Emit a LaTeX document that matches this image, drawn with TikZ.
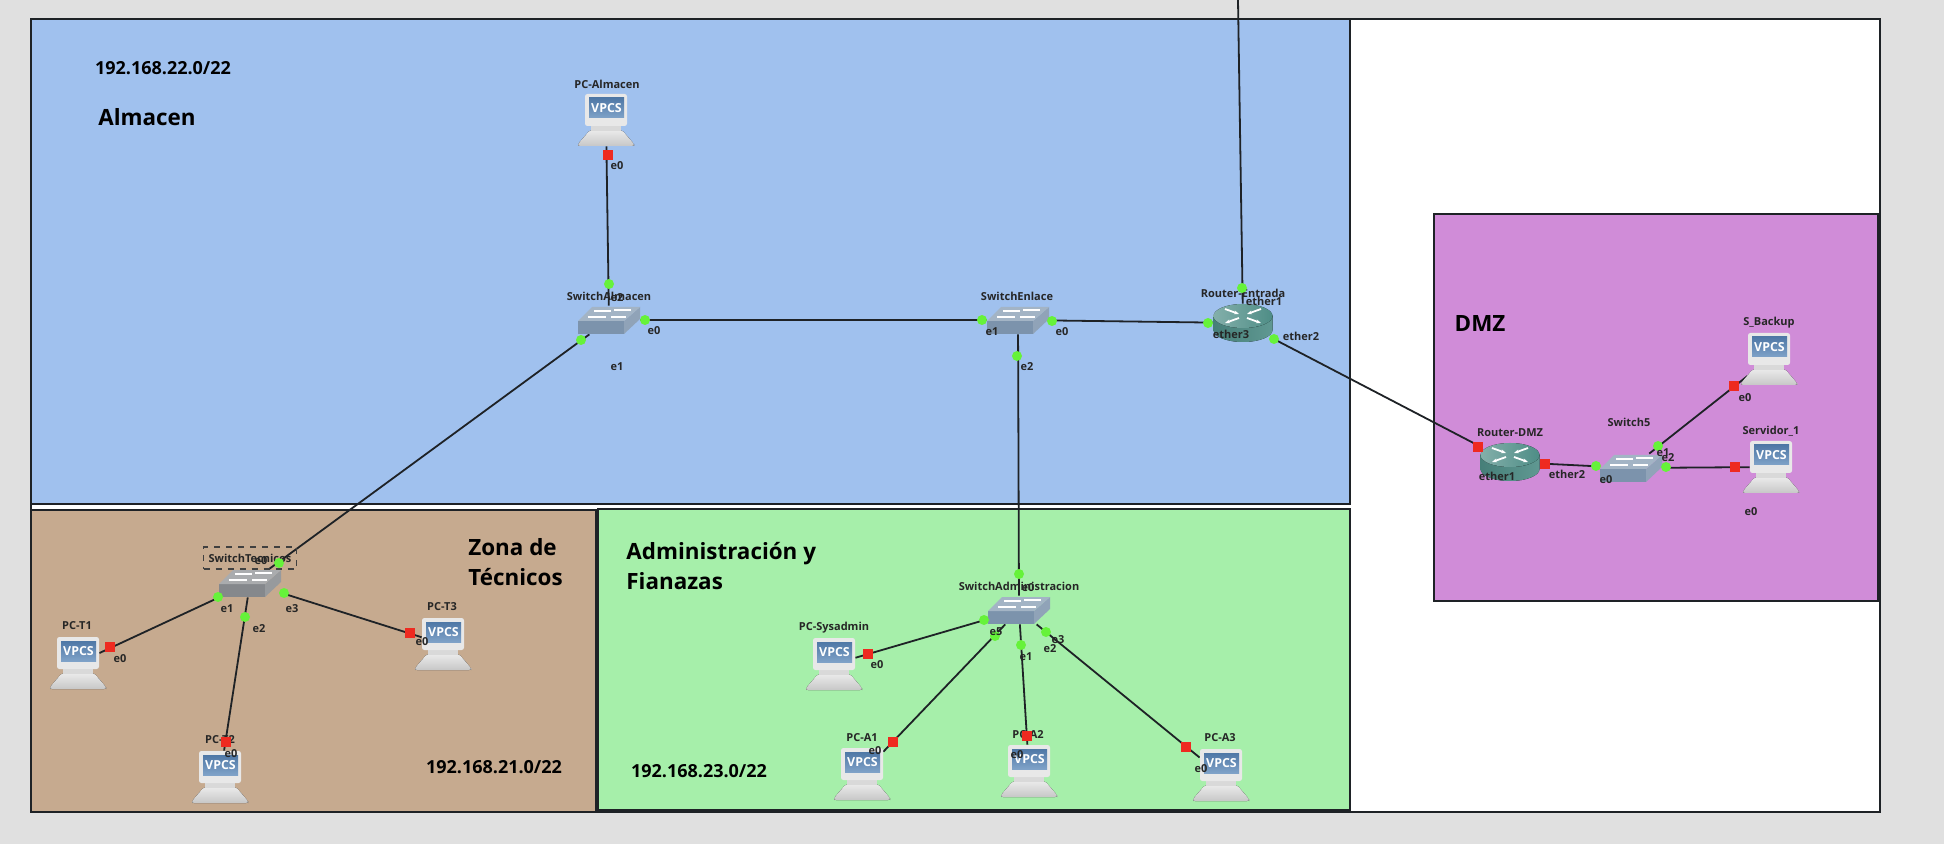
\documentclass[tikz,border=0pt]{standalone}
\usepackage{fontspec}
\setmainfont{Open Sans}
\usetikzlibrary{arrows.meta, positioning, calc}
\definecolor{bgGray}{HTML}{E0E0E0}
\definecolor{zoneBlue}{HTML}{A0C1EE}
\definecolor{zoneTan}{HTML}{C6AA8F}
\definecolor{zoneGreen}{HTML}{A6EFAA}
\definecolor{zonePurple}{HTML}{D08CD8}
\definecolor{lineDark}{HTML}{1E2226}
\definecolor{portGreen}{HTML}{66F23A}
\definecolor{portRed}{HTML}{EE2A20}
\definecolor{swBlue}{HTML}{7C93AC}
\definecolor{swGray}{HTML}{85888C}
\definecolor{routerTeal}{HTML}{4E8D86}
\definecolor{screenDark}{HTML}{4F78A6}
\definecolor{screenLight}{HTML}{7FA2C8}
\tikzset{
  zone/.style={draw=lineDark, line width=1pt},
  link/.style={draw=lineDark, line width=0.9pt},
  pcBox/.style={rectangle, inner sep=0pt, minimum width=21pt, minimum height=26pt},
  swBox/.style={rectangle, inner sep=0pt, minimum width=31pt, minimum height=14pt},
  rtBox/.style={rectangle, inner sep=0pt, minimum width=29.5pt, minimum height=19pt},
  portG/.style={circle, fill=portGreen, inner sep=0pt, minimum size=5pt},
  portR/.style={rectangle, fill=portRed, inner sep=0pt, minimum size=4.6pt},
  lbl/.style={inner sep=0pt, text=black!85, font=\fontsize{5.5}{6.5}\selectfont\bfseries},
  selBox/.style={draw=black!75, dashed, line width=0.6pt, minimum width=46.5pt, minimum height=11pt},
  zoneTxt/.style={inner sep=0pt, align=left, font=\fontsize{11.2}{15}\selectfont\bfseries},
  ipTxt/.style={inner sep=0pt, font=\fontsize{9}{10}\selectfont\bfseries},
  vpcsTxt/.style={inner sep=0pt, text=white, font=\fontsize{6.2}{7}\selectfont\bfseries},
  pics/pcicon/.style={code={
    \fill[rounded corners=1pt, top color=black!8, bottom color=black!22]
      (-16,10) -- (16,10) -- (28,24) -- (28,26) -- (-28,26) -- (-28,24) -- cycle;
    \fill[black!15] (-15,4) rectangle (15,11);
    \fill[rounded corners=1.2pt, black!9] (-21,-26) rectangle (21,6);
    \fill[top color=screenDark, bottom color=screenLight] (-17,-22) rectangle (18,-2);
    \node[vpcsTxt] (-vpcs) at (0.5,-12) {VPCS};
  }},
  pics/swicon/.style={code={
    \fill[#1] (-31,1) -- (15,1) -- (15,14) -- (-31,14) -- cycle;
    \fill[#1!85!white] (15,1) -- (31,-13) -- (31,-1) -- (15,14) -- cycle;
    \fill[#1!70!white] (-31,1) -- (-17,-13) -- (31,-13) -- (15,1) -- cycle;
    \foreach \ax/\ay/\bx in {-21/-3/-3, -15/-9/2, 2/-3/17, 5/-10/22} {
      \draw[white, line width=0.8pt] (\ax,\ay) -- (\bx,\ay);
    }
  }},
  pics/rticon/.style={code={
    \fill[left color=routerTeal!90!black, right color=routerTeal!90!white]
      (-29.5,-7) -- (-29.5,7) arc[start angle=180, end angle=0, x radius=29.5, y radius=12]
      -- (29.5,-7) -- cycle;
    \fill[left color=routerTeal!70!white, right color=routerTeal]
      (0,-7) ellipse[x radius=29.5, y radius=12];
    \foreach \sx in {-1,1} {
      \draw[white, line width=0.9pt, -{Stealth[length=2.5pt]}] (\sx*18,-14) -- (\sx*4,-9);
      \draw[white, line width=0.9pt, {Stealth[length=2.5pt]}-] (\sx*18,0) -- (\sx*4,-5);
    }
  }},
}

\begin{document}
\begin{tikzpicture}[x=0.5pt, y=-0.5pt]
    \useasboundingbox (0,0) rectangle (1944,844);
    \fill[bgGray] (0,0) rectangle (1944,844);
    % zonas
    \draw[zone, fill=white] (31,19) rectangle (1880,812);
    \draw[zone, fill=zoneBlue] (31,19) rectangle (1350,504);
    \draw[zone, fill=zoneTan] (31,510) rectangle (596,812);
    \draw[zone, fill=zoneGreen] (598,509) rectangle (1350,810);
    \draw[zone, fill=zonePurple] (1434,214) rectangle (1878,601);
    % equipos
    \foreach \n/\x/\y in {pcAlmacen/606/120, pcT1/78/663, pcT2/220/777, pcT3/443/644,
        pcSysadmin/834/664, pcA1/862/774, pcA2/1029/771, pcA3/1221/775,
        sBackup/1769/359, servidor/1771/467} {
      \node[pcBox] (\n) at (\x,\y) {};
    }
    \foreach \n/\x/\y in {swAlmacen/609/320, swEnlace/1018/320, swTecnicos/250/583,
        swAdmin/1019/610, sw5/1631/468} {
      \node[swBox] (\n) at (\x,\y) {};
    }
    \node[rtBox] (rtEntrada) at (1243,323) {};
    \node[rtBox] (rtDMZ) at (1510,462) {};
    \coordinate (wan) at (1238,0);
    % enlaces
    \draw[link] (wan) -- (rtEntrada);
    \draw[link] (rtEntrada) -- (rtDMZ);
    \draw[link] (rtEntrada) -- (swEnlace);
    \draw[link] (swEnlace) -- (swAlmacen);
    \draw[link] (swEnlace) -- (swAdmin);
    \draw[link] (swAlmacen) -- (pcAlmacen);
    \draw[link] (swAlmacen) -- (swTecnicos);
    \draw[link] (rtDMZ) -- (sw5);
    \foreach \a/\b in {swTecnicos/pcT1, swTecnicos/pcT2, swTecnicos/pcT3,
        swAdmin/pcSysadmin, swAdmin/pcA1, swAdmin/pcA2, swAdmin/pcA3,
        sw5/sBackup, sw5/servidor} {
      \draw[link] (\a) -- (\b);
    }
    % iconos
    \foreach \n in {pcAlmacen, pcT1, pcT2, pcT3, pcSysadmin, pcA1, pcA2, pcA3, sBackup, servidor} {
      \pic (\n) at (\n) {pcicon};
    }
    \foreach \n/\c in {swAlmacen/swBlue, swEnlace/swBlue, swTecnicos/swGray, swAdmin/swBlue, sw5/swBlue} {
      \pic (\n) at (\n) {swicon=\c};
    }
    \pic (rtEntrada) at (rtEntrada) {rticon};
    \pic (rtDMZ) at (rtDMZ) {rticon};
    % nombres de equipos
    \foreach \n/\x/\y/\t in {pcAlmacen/607/84/PC-Almacen, pcT1/77/626/PC-T1, pcT2/220/740/PC-T2,
        pcT3/442/607/PC-T3, pcSysadmin/834/628/PC-Sysadmin, pcA1/862/738/PC-A1, pcA2/1028/735/PC-A2,
        pcA3/1220/738/PC-A3, sBackup/1769/323/S\_Backup, servidor/1771/431/Servidor\_1,
        swAlmacen/609/296/SwitchAlmacen, swEnlace/1017/296/SwitchEnlace,
        swAdmin/1019/586/SwitchAdministracion, sw5/1629/422/Switch5,
        rtEntrada/1243/293/Router-Entrada, rtDMZ/1510/433/Router-DMZ} {
      \node[lbl] (\n-name) at (\x,\y) {\t};
    }
    \node[lbl, selBox] (swTecnicos-name) at (250,558) {SwitchTecnicos};
    % puertos
    \foreach \x/\y [count=\i] in {609/284, 645/320, 581/340, 982/320, 1052/321, 1017/356,
        1242/288, 1208/323, 1274/339, 1596/466, 1658/446, 1666/467,
        279/563, 218/597, 245/617, 284/593,
        1019/574, 984/620, 995/636, 1021/645, 1046/632} {
      \node[portG] (pg\i) at (\x,\y) {};
    }
    \foreach \x/\y [count=\i] in {608/155, 1478/447, 1545/464, 1734/386, 1735/467,
        110/647, 226/742, 410/633, 868/654, 893/742, 1027/736, 1186/747} {
      \node[portR] (pr\i) at (\x,\y) {};
    }
    % etiquetas de puertos
    \foreach \x/\y/\t [count=\i] in {617/166/e0, 654/331/e0, 617/367/e1, 617/298/e2,
        992/332/e1, 1062/332/e0, 1027/367/e2,
        1264/301/ether1, 1231/334/ether3, 1301/336/ether2,
        1497/476/ether1, 1567/474/ether2, 1606/480/e0, 1663/453/e1, 1668/458/e2,
        1745/398/e0, 1751/512/e0,
        261/561/e0, 227/609/e1, 259/629/e2, 292/609/e3, 120/659/e0, 231/754/e0, 422/642/e0,
        1028/588/e0, 996/632/e5, 1026/657/e1, 1050/649/e2, 1058/640/e3,
        877/665/e0, 875/751/e0, 1017/755/e0, 1201/769/e0} {
      \node[lbl] (pl\i) at (\x,\y) {\t};
    }
    % textos de zona
    \node[zoneTxt] (tAlmacen) at (147,117) {Almacen};
    \node[zoneTxt, anchor=west] (tTecnicos) at (468,562) {Zona de\\Técnicos};
    \node[zoneTxt, anchor=west] (tAdmin) at (626,566) {Administración y\\Fianazas};
    \node[zoneTxt] (tDMZ) at (1480,324) {DMZ};
    \node[ipTxt] (ipAlmacen) at (163,68) {192.168.22.0/22};
    \node[ipTxt] (ipTecnicos) at (494,767) {192.168.21.0/22};
    \node[ipTxt] (ipAdmin) at (699,771) {192.168.23.0/22};
\end{tikzpicture}
\end{document}
